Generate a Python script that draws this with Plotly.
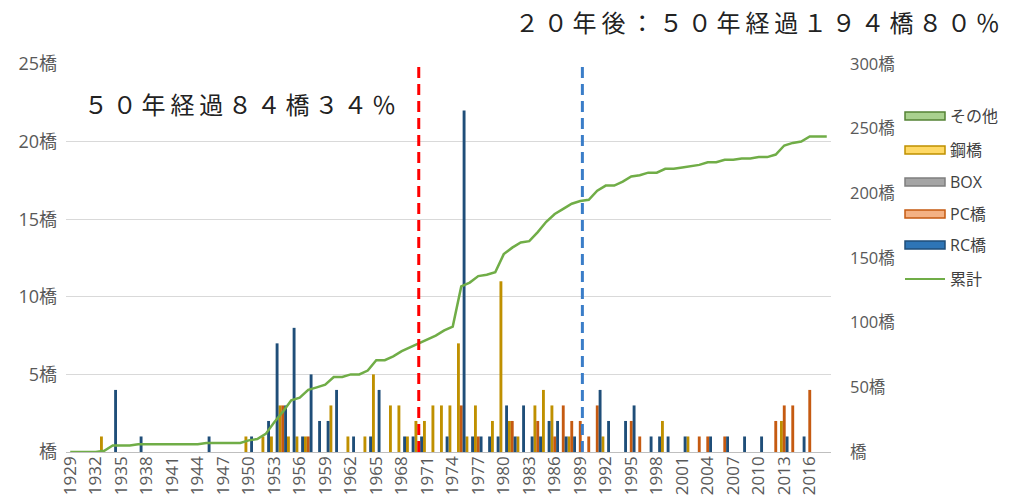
import plotly.graph_objects as go

# ---------------- data ----------------
YEARS = list(range(1929, 2019))

STEEL = [  # 鋼橋
    0, 0, 0, 0, 1, 0, 0, 0, 0, 0,      # 1929-1938
    0, 0, 0, 0, 0, 0, 0, 0, 0, 0,      # 1939-1948
    0, 1, 0, 1, 1, 3, 1, 1, 1, 0,      # 1949-1958
    0, 3, 0, 1, 0, 1, 5, 0, 3, 3,      # 1959-1968
    1, 2, 2, 3, 3, 3, 7, 1, 3, 0,      # 1969-1978
    2, 11, 2, 1, 0, 3, 4, 3, 0, 1,     # 1979-1988
    0, 0, 0, 1, 0, 0, 0, 0, 0, 0,      # 1989-1998
    2, 0, 0, 1, 0, 0, 0, 0, 0, 0,      # 1999-2008
    0, 0, 0, 0, 2, 0, 0, 0, 0, 0,      # 2009-2018
]

PC = [  # PC橋
    0, 0, 0, 0, 0, 0, 0, 0, 0, 0,
    0, 0, 0, 0, 0, 0, 0, 0, 0, 0,
    0, 0, 0, 0, 0, 3, 0, 0, 1, 0,
    0, 0, 0, 0, 0, 0, 0, 0, 0, 0,
    0, 0, 0, 0, 0, 0, 3, 0, 1, 0,
    0, 0, 2, 0, 0, 2, 0, 1, 3, 2,
    2, 1, 3, 0, 0, 0, 2, 1, 0, 0,
    0, 0, 0, 0, 1, 1, 0, 1, 0, 0,
    0, 0, 0, 2, 3, 3, 0, 4, 0, 0,
]

RC = [  # RC橋
    0, 0, 0, 0, 0, 4, 0, 0, 1, 0,
    0, 0, 0, 0, 0, 0, 1, 0, 0, 0,
    0, 1, 0, 2, 7, 3, 8, 1, 5, 2,
    2, 4, 0, 1, 0, 1, 4, 0, 0, 1,
    1, 1, 0, 0, 1, 0, 22, 1, 1, 1,
    1, 3, 1, 3, 1, 1, 2, 2, 1, 1,
    0, 0, 4, 2, 0, 2, 3, 0, 1, 1,
    1, 0, 1, 0, 0, 1, 0, 1, 0, 1,
    0, 1, 0, 0, 1, 0, 1, 0, 0, 0,
]

CUMULATIVE = [  # 累計
    0, 0, 0, 0, 1, 5, 5, 5, 6, 6,
    6, 6, 6, 6, 6, 6, 7, 7, 7, 7,
    7, 9, 10, 14, 23, 31, 40, 42, 48, 50,
    52, 58, 58, 60, 60, 63, 71, 71, 74, 78,
    81, 84, 87, 90, 94, 97, 128, 131, 136, 137,
    139, 153, 158, 162, 163, 170, 178, 184, 188, 192,
    194, 195, 202, 206, 206, 209, 213, 214, 216, 216,
    219, 219, 220, 221, 222, 224, 224, 226, 226, 227,
    227, 228, 228, 230, 237, 239, 240, 244, 244, 244,
]

LEFT_TICKS = [0, 5, 10, 15, 20, 25]
RIGHT_TICKS = [0, 50, 100, 150, 200, 250, 300]
UNIT = "橋"

RED_LINE_YEAR = 1970
BLUE_LINE_YEAR = 1989.25

TEXT_TOP = "２０年後：５０年経過１９４橋８０％"
TEXT_LEFT = "５０年経過８４橋３４％"

LEGEND = [
    ("その他", "#A9D18E", "#548235"),
    ("鋼橋", "#FFD966", "#BF9000"),
    ("BOX", "#A5A5A5", "#7F7F7F"),
    ("PC橋", "#F4B183", "#C55A11"),
    ("RC橋", "#2E75B6", "#1F4E79"),
]
LINE_NAME = "累計"
LINE_COLOR = "#70AD47"

# ---------------- layout geometry ----------------
W, H = 1010, 502
ML, MR, MT, MB = 66, 179, 64, 50
PW = W - ML - MR
PH = H - MT - MB

def px2x(px):
    return (px - ML) / PW

def py2y(py):
    return (H - MB - py) / PH

FONT = "Open Sans, Noto Sans CJK JP, sans-serif"
CJK = "Noto Sans CJK JP, sans-serif"
TICK_COLOR = "#595959"

def spaced(s):
    return "\u2009".join(s)

fig = go.Figure()

BW = 0.34
bar_series = [
    ("鋼橋", STEEL, "#BF9000", -1 / 3),
    ("PC橋", PC, "#C55A11", 0.0),
    ("RC橋", RC, "#1F4E79", 1 / 3),
]
for name, vals, col, shift in bar_series:
    fig.add_trace(go.Bar(
        x=YEARS, y=vals, name=name, width=BW, offset=shift - BW / 2,
        marker=dict(color=col, line=dict(width=0)), showlegend=False,
        yaxis="y",
    ))

fig.add_trace(go.Scatter(
    x=YEARS, y=CUMULATIVE, name=LINE_NAME, mode="lines",
    line=dict(color=LINE_COLOR, width=2.5), yaxis="y2", showlegend=False,
))

fig.update_layout(
    width=W, height=H,
    margin=dict(l=ML, r=MR, t=MT, b=MB, autoexpand=False),
    paper_bgcolor="white", plot_bgcolor="white",
    barmode="overlay",
    font=dict(family=FONT, color=TICK_COLOR),
    xaxis=dict(
        range=[YEARS[0] - 0.5, YEARS[-1] + 0.5],
        tickmode="array",
        tickvals=YEARS[::3],
        ticktext=[str(y) for y in YEARS[::3]],
        tickangle=-90,
        tickfont=dict(size=17, color=TICK_COLOR, family=FONT),
        showgrid=False, zeroline=False,
        showline=False, ticks="", automargin=False,
    ),
    yaxis=dict(
        range=[0, 25],
        tickmode="array",
        tickvals=LEFT_TICKS,
        ticktext=[(str(v) if v else "") + UNIT for v in LEFT_TICKS],
        tickfont=dict(size=18, color=TICK_COLOR, family=FONT),
        showgrid=True, gridcolor="#D9D9D9", gridwidth=1,
        zeroline=True, zerolinecolor="#BFBFBF", zerolinewidth=1,
        ticks="", ticklabelstandoff=8, automargin=False,
    ),
    yaxis2=dict(
        range=[0, 300], overlaying="y", side="right",
        tickmode="array",
        tickvals=RIGHT_TICKS,
        ticktext=[(str(v) if v else "") + UNIT for v in RIGHT_TICKS],
        tickfont=dict(size=16.5, color=TICK_COLOR, family=FONT),
        showgrid=False, zeroline=False, ticks="",
        ticklabelstandoff=18, automargin=False,
    ),
)

# dashed reference lines
for xv, col in [(RED_LINE_YEAR, "#FF0000"), (BLUE_LINE_YEAR, "#3A7DC8")]:
    fig.add_shape(type="line", xref="x", yref="paper",
                  x0=xv, x1=xv, y0=0, y1=py2y(67),
                  line=dict(color=col, width=3, dash="11px,6px"))

# texts
fig.add_annotation(xref="paper", yref="paper", x=px2x(513), y=py2y(22),
                   xanchor="left", yanchor="middle", showarrow=False,
                   text=spaced(TEXT_TOP), font=dict(size=24, color="#222222", family=CJK))
fig.add_annotation(xref="paper", yref="paper", x=px2x(82), y=py2y(103),
                   xanchor="left", yanchor="middle", showarrow=False,
                   text=spaced(TEXT_LEFT), font=dict(size=24, color="#222222", family=CJK))

# custom legend
LX0, LX1 = 905, 945
rows_y = [116, 150, 182, 214, 245, 279]
for (name, fill, border), ry in zip(LEGEND, rows_y):
    fig.add_shape(type="rect", xref="paper", yref="paper",
                  x0=px2x(LX0), x1=px2x(LX1), y0=py2y(ry + 4), y1=py2y(ry - 4),
                  fillcolor=fill, line=dict(color=border, width=1.5))
    fig.add_annotation(xref="paper", yref="paper", x=px2x(LX1 + 3), y=py2y(ry),
                       xanchor="left", yanchor="middle", showarrow=False,
                       text=name, font=dict(size=16, color="#404040", family=FONT))
ry = rows_y[-1]
fig.add_shape(type="line", xref="paper", yref="paper",
              x0=px2x(LX0), x1=px2x(LX1), y0=py2y(ry), y1=py2y(ry),
              line=dict(color=LINE_COLOR, width=2))
fig.add_annotation(xref="paper", yref="paper", x=px2x(LX1 + 3), y=py2y(ry),
                   xanchor="left", yanchor="middle", showarrow=False,
                   text=LINE_NAME, font=dict(size=16, color="#404040", family=FONT))

fig.write_html(
    "out.html",
    config={"displayModeBar": False},
    post_script="document.body.style.margin='0px';document.body.style.overflow='hidden';",
)
